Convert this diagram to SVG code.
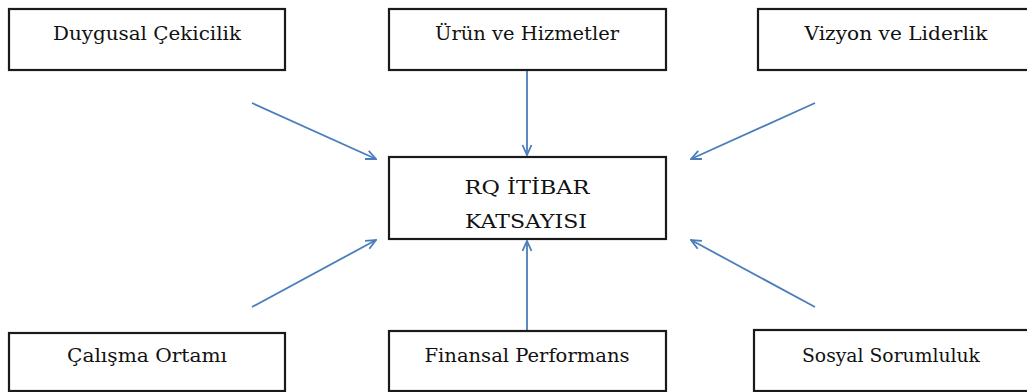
<svg xmlns="http://www.w3.org/2000/svg" width="1027" height="392" viewBox="0 0 1027 392">
  <style>
    .box { fill: #ffffff; stroke: #1a1a1a; stroke-width: 2.2; }
    .label { font-family: 'DejaVu Serif', 'Liberation Serif', serif; font-size: 19px; fill: #111111; text-anchor: middle; }
    .conn { stroke: #4a7ebb; stroke-width: 1.8; fill: none; marker-end: url(#arrow); }
  </style>
  <defs>
    <marker id="arrow" viewBox="0 0 12 12" refX="11" refY="6" markerWidth="12" markerHeight="12" markerUnits="userSpaceOnUse" orient="auto">
      <path d="M1,1.5 L11,6 L1,10.5" fill="none" stroke="#4a7ebb" stroke-width="1.8"/>
    </marker>
  </defs>
  <rect width="1027" height="392" fill="#ffffff"/>

  <g id="connectors">
    <line class="conn" x1="252" y1="103" x2="376" y2="159"/>
    <line class="conn" x1="527" y1="71" x2="527" y2="155"/>
    <line class="conn" x1="815" y1="103" x2="691" y2="159"/>
    <line class="conn" x1="252" y1="307" x2="376" y2="240"/>
    <line class="conn" x1="527" y1="330" x2="527" y2="241"/>
    <line class="conn" x1="815" y1="307" x2="691" y2="240"/>
  </g>

  <g id="duygusal-cekicilik">
    <rect class="box" x="9" y="9" width="276" height="61"/>
    <text class="label" x="147" y="40" textLength="188" lengthAdjust="spacingAndGlyphs">Duygusal  Çekicilik</text>
  </g>
  <g id="urun-ve-hizmetler">
    <rect class="box" x="389" y="9" width="277" height="61"/>
    <text class="label" x="527" y="40" textLength="184" lengthAdjust="spacingAndGlyphs">Ürün ve Hizmetler</text>
  </g>
  <g id="vizyon-ve-liderlik">
    <rect class="box" x="758" y="9" width="275" height="61"/>
    <text class="label" x="896" y="40" textLength="183" lengthAdjust="spacingAndGlyphs">Vizyon  ve Liderlik</text>
  </g>
  <g id="rq-itibar-katsayisi">
    <rect class="box" x="389" y="157" width="277" height="82"/>
    <text class="label" x="527" y="194" textLength="125" lengthAdjust="spacingAndGlyphs">RQ İTİBAR</text>
    <text class="label" x="526" y="228" textLength="122" lengthAdjust="spacingAndGlyphs">KATSAYISI</text>
  </g>
  <g id="calisma-ortami">
    <rect class="box" x="9" y="333" width="276" height="58"/>
    <text class="label" x="147" y="362" textLength="160" lengthAdjust="spacingAndGlyphs">Çalışma Ortamı</text>
  </g>
  <g id="finansal-performans">
    <rect class="box" x="389" y="331" width="277" height="60"/>
    <text class="label" x="527" y="362" textLength="205" lengthAdjust="spacingAndGlyphs">Finansal Performans</text>
  </g>
  <g id="sosyal-sorumluluk">
    <rect class="box" x="754" y="330" width="279" height="61"/>
    <text class="label" x="891" y="362" textLength="178" lengthAdjust="spacingAndGlyphs">Sosyal Sorumluluk</text>
  </g>
</svg>
